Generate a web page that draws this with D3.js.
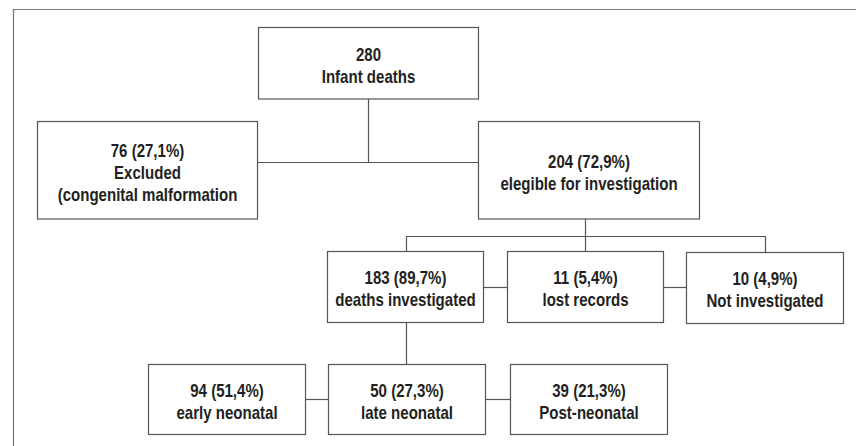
<!DOCTYPE html>
<html><head><meta charset="utf-8">
<script src="https://cdn.jsdelivr.net/npm/d3@7"></script>
<style>
html,body{margin:0;padding:0;background:#fff;}
svg{display:block;}
text{font-family:"Liberation Sans","Arial",sans-serif;font-weight:bold;fill:#231f20;}
</style></head>
<body><svg id="c" width="856" height="446"></svg>
<script>
// ---- data ----
const nodeIds   = ["total","excluded","eligible","investigated","lost","notinv","early","late","post"];
const counts    = [280, 76, 204, 183, 11, 10, 94, 50, 39];
const percents  = [null, "27,1%", "72,9%", "89,7%", "5,4%", "4,9%", "51,4%", "27,3%", "21,3%"];
const labels    = [["Infant deaths"], ["Excluded","(congenital malformation"], ["elegible for investigation"],
                   ["deaths investigated"], ["lost records"], ["Not investigated"],
                   ["early neonatal"], ["late neonatal"], ["Post-neonatal"]];

// ---- layout (separate from data) ----
const layout = {
  total:        {x:258.5, y:27.5, w:220, h:71.5},
  excluded:     {x:37.5,  y:121.5, w:220, h:97.5},
  eligible:     {x:478.5, y:121.5, w:221, h:97.5},
  investigated: {x:327.5, y:251.5, w:156, h:71},
  lost:         {x:507.5, y:251.5, w:156, h:71},
  notinv:       {x:686.5, y:252.5, w:157, h:71},
  early:        {x:148.5, y:364.5, w:157, h:70},
  late:         {x:328.5, y:364.5, w:157, h:70},
  post:         {x:510.5, y:364.5, w:157, h:70}
};
const splitX = 368.5, splitY = 162.5;
const branchY = 236.5, branchL = 406.5, branchM = 585.5, branchR = 765.5;
const r3y = 287.5, r4y = 399.5;

const svg = d3.select("#c");
const lineColor = "#555";

// frame (top + left)
svg.append("path").attr("d", d3.line()([[13.5,446],[13.5,9.5],[856,9.5]]))
  .attr("fill","none").attr("stroke","#777").attr("stroke-width",1.2);

const L = id => layout[id];
const cx = id => L(id).x + L(id).w/2;
const cy = id => L(id).y + L(id).h/2;
const right = id => L(id).x + L(id).w;
const bottom = id => L(id).y + L(id).h;

const connectors = [
  [[splitX, bottom("total")],[splitX, splitY]],
  [[right("excluded"), splitY],[L("eligible").x, splitY]],
  [[branchM, bottom("eligible")],[branchM, L("lost").y]],
  [[branchL, L("investigated").y],[branchL, branchY],[branchR, branchY],[branchR, L("notinv").y]],
  [[right("investigated"), r3y],[L("lost").x, r3y]],
  [[right("lost"), r3y],[L("notinv").x, r3y]],
  [[branchL, bottom("investigated")],[branchL, L("late").y]],
  [[right("early"), r4y],[L("late").x, r4y]],
  [[right("late"), r4y],[L("post").x, r4y]]
];

svg.append("g").selectAll("path").data(connectors).join("path")
  .attr("d", d => d3.line()(d)).attr("fill","none")
  .attr("stroke", lineColor).attr("stroke-width",1.2);

const nodes = nodeIds.map((id,i)=>({id, count:counts[i], pct:percents[i], lines:labels[i]}));
const g = svg.append("g").selectAll("g").data(nodes).join("g");
g.append("rect")
  .attr("x", d=>L(d.id).x).attr("y", d=>L(d.id).y)
  .attr("width", d=>L(d.id).w).attr("height", d=>L(d.id).h)
  .attr("fill","#fff").attr("stroke", lineColor).attr("stroke-width",1.2);

const lineH = 22, baseOff = 8.5, squeeze = 0.86;
g.each(function(d){
  const all = [d.pct ? `${d.count} (${d.pct})` : `${d.count}`].concat(d.lines);
  const n = all.length;
  const c = cy(d.id);
  const t = d3.select(this).append("text").attr("text-anchor","middle").attr("font-size","17.5px")
    .attr("transform", `translate(${cx(d.id)},0) scale(${squeeze},1)`);
  all.forEach((s,i)=>{
    t.append("tspan").attr("x", 0)
     .attr("y", c + (i - (n-1)/2)*lineH + baseOff).text(s);
  });
});
</script></body></html>
